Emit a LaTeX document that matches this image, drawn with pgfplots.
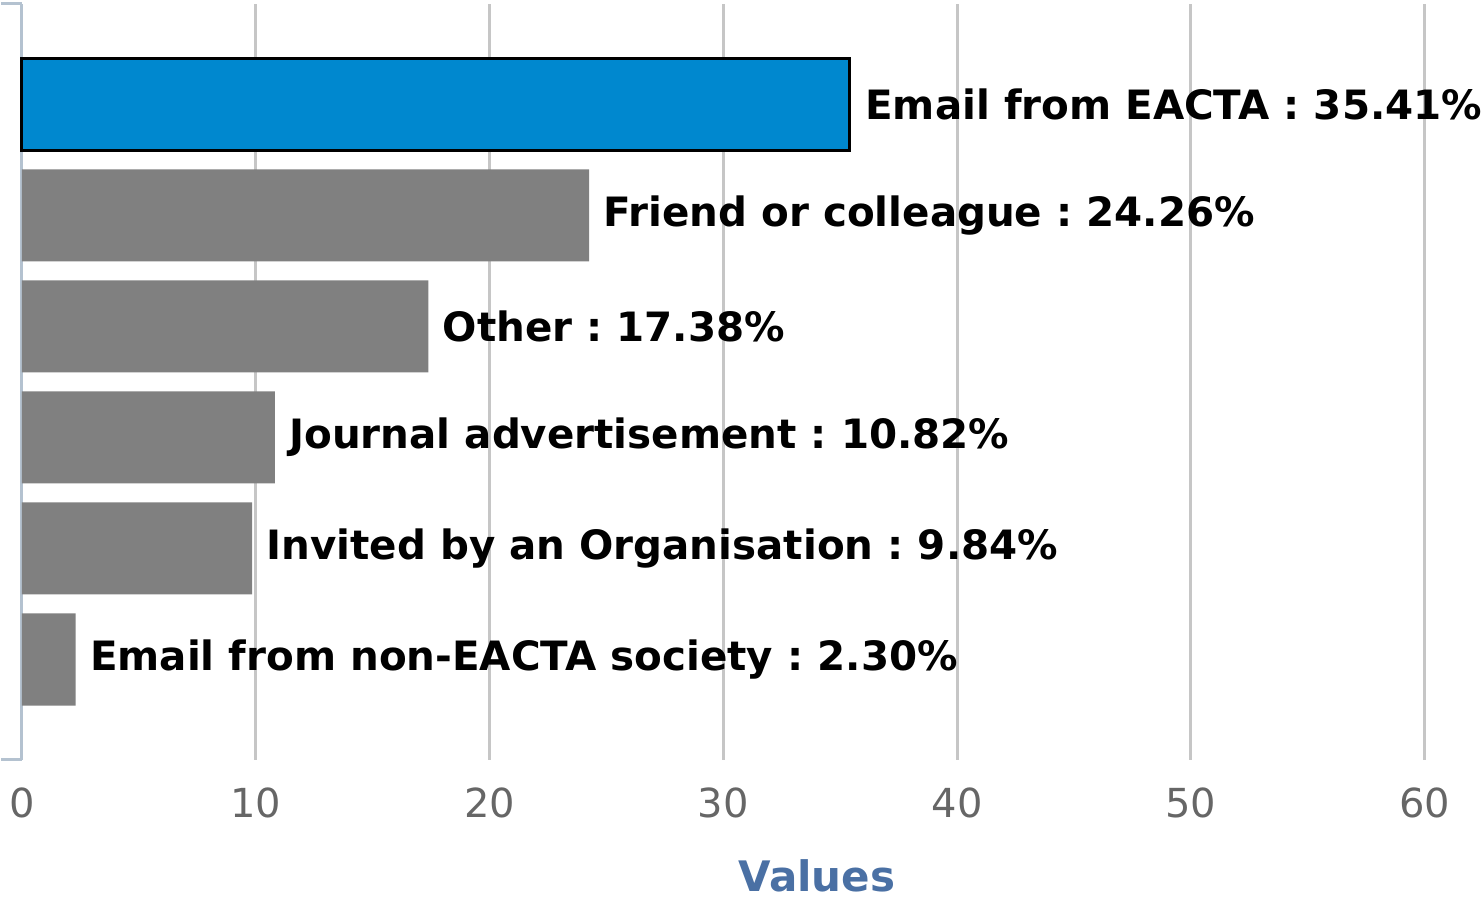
\documentclass[border=0pt]{standalone}
\usepackage{pgfplots}
\pgfplotsset{compat=1.18}
\usepackage{fontspec}
\setmainfont{DejaVu Sans}

\definecolor{barblue}{HTML}{0088CF}
\definecolor{bargray}{HTML}{808080}
\definecolor{gridgray}{HTML}{C6C6C6}
\definecolor{axisblue}{HTML}{B4C2D0}
\definecolor{ticktext}{HTML}{666666}
\definecolor{titleblue}{HTML}{4A70A4}

\begin{document}
\frenchspacing
\begin{tikzpicture}
\begin{axis}[
    scale only axis,
    width=730pt, height=378pt,
    xbar, bar width=0.83, bar shift=0pt,
    xmin=0, xmax=62.45,
    ymin=-0.905, ymax=5.905,
    axis x line*=bottom, axis y line*=left,
    axis line style={-},
    x axis line style={draw=none},
    y axis line style={draw=axisblue, line width=1.5pt},
    xtick={0,10,...,60},
    xtick style={draw=none},
    ytick={-0.905,5.905}, yticklabels={},
    ytick style={draw=axisblue, line width=1.5pt},
    tick align=outside, major tick length=10.5pt,
    xmajorgrids,
    major grid style={draw=gridgray, line width=1.5pt},
    /pgf/number format/assume math mode=true,
    xticklabel style={font=\fontsize{20}{24}\selectfont, text=ticktext},
    xlabel={Values},
    xlabel style={at={(axis description cs:0.5445,0)}, anchor=center, yshift=-58pt,
                  font=\fontsize{21}{25}\selectfont\bfseries, text=titleblue},
    point meta=explicit symbolic,
    nodes near coords,
    every node near coord/.append style={anchor=west, inner sep=0pt, xshift=7pt,
        font=\fontsize{20.2}{24}\selectfont\bfseries\frenchspacing, text=black},
    clip=false,
  ]
\addplot[fill=barblue, draw=black, line width=1.5pt]
  coordinates {(35.41,5) [Email from EACTA : 35.41\%]};
\addplot[fill=bargray, draw=none]
  coordinates {
    (24.26,4) [Friend or colleague : 24.26\%]
    (17.38,3) [Other : 17.38\%]
    (10.82,2) [Journal advertisement : 10.82\%]
    (9.84,1)  [Invited by an Organisation : 9.84\%]
    (2.30,0)  [Email from non-EACTA society : 2.30\%]
  };
\coordinate (pbl) at (axis cs:-0.94,-2.158);
\coordinate (ptr) at (axis cs:62.45,5.94);
\end{axis}
\pgfresetboundingbox
\path[use as bounding box] (pbl) rectangle (ptr);
\end{tikzpicture}
\end{document}
